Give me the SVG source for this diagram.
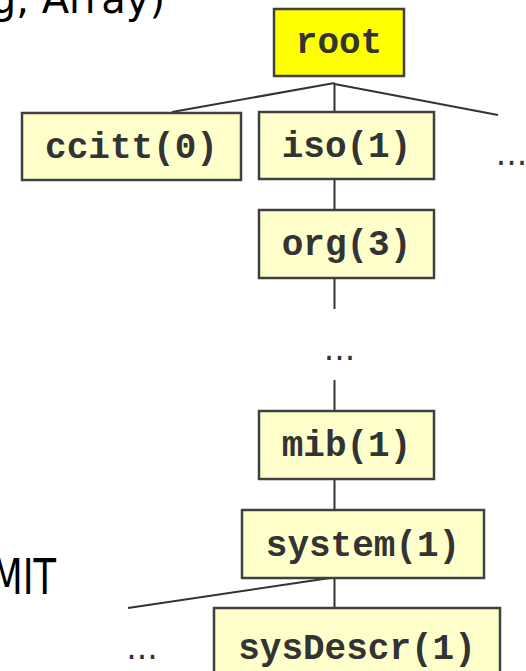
<svg xmlns="http://www.w3.org/2000/svg" width="526" height="671" viewBox="0 0 526 671">
<style>
.box{fill:#FFFFCC;stroke:#404040;stroke-width:2.5}
.rootbox{fill:#FFFF00;stroke:#404040;stroke-width:2.5}
.lbl{font-family:"Liberation Mono","DejaVu Sans Mono",monospace;font-weight:bold;font-size:36px;fill:#333333;text-anchor:middle}
.dots{font-family:"DejaVu Sans",sans-serif;font-size:33px;fill:#333333;text-anchor:middle}
.slide{font-family:"DejaVu Sans",sans-serif;fill:#000000;text-anchor:end}
.conn line{stroke:#333333;stroke-width:2;fill:none}
</style>
<rect width="526" height="671" fill="#FFFFFF"/>
<text class="slide" x="165" y="13" font-size="40">g, Array)</text>
<text class="slide" x="74.7" y="594" font-size="49" transform="scale(0.75,1)">MIT</text>
<g id="connectors" class="conn">
<line x1="334.5" y1="83" x2="172" y2="112"/>
<line x1="334.5" y1="83" x2="334.5" y2="112"/>
<line x1="334.5" y1="84" x2="498" y2="115"/>
<line x1="334.5" y1="179" x2="334.5" y2="210"/>
<line x1="334.5" y1="278" x2="334.5" y2="309"/>
<line x1="334.5" y1="380" x2="334.5" y2="411"/>
<line x1="334.5" y1="479" x2="334.5" y2="510"/>
<line x1="334.5" y1="578" x2="334.5" y2="608"/>
<line x1="330" y1="578" x2="128" y2="608"/>
</g>
<g id="root"><rect class="rootbox" x="274" y="9" width="130" height="67"/><text class="lbl" x="339" y="53">root</text></g>
<g id="ccitt"><rect class="box" x="22" y="113" width="219" height="67"/><text class="lbl" x="131.5" y="157.5">ccitt(0)</text></g>
<g id="iso"><rect class="box" x="259" y="112" width="175" height="67"/><text class="lbl" x="346.5" y="156.5">iso(1)</text></g>
<g id="more-top"><text class="dots" x="511.5" y="164.5">...</text></g>
<g id="org"><rect class="box" x="259" y="210" width="175" height="68"/><text class="lbl" x="346.5" y="254.5">org(3)</text></g>
<g id="more-mid"><text class="dots" x="339.5" y="359.5">...</text></g>
<g id="mib"><rect class="box" x="259" y="411" width="175" height="68"/><text class="lbl" x="346.5" y="455.5">mib(1)</text></g>
<g id="system"><rect class="box" x="242" y="510" width="242" height="68"/><text class="lbl" x="363" y="556">system(1)</text></g>
<g id="more-bottom"><text class="dots" x="142" y="659">...</text></g>
<g id="sysDescr"><rect class="box" x="214" y="608" width="286" height="80"/><text class="lbl" x="357" y="659">sysDescr(1)</text></g>
</svg>
